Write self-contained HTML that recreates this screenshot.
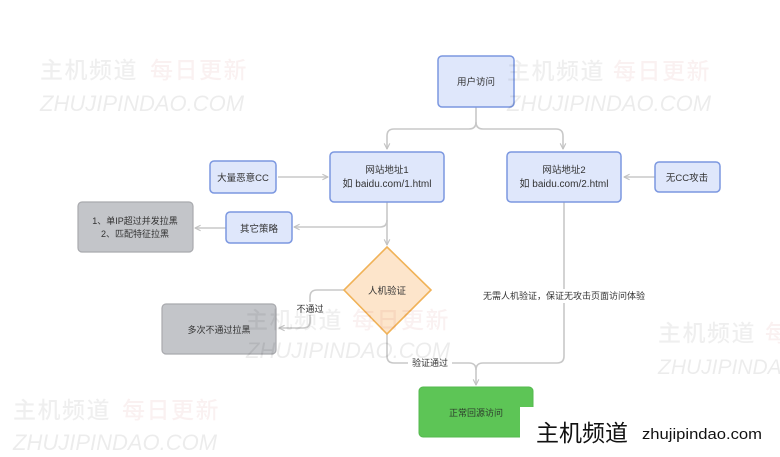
<!DOCTYPE html>
<html>
<head>
<meta charset="utf-8">
<style>
html,body{margin:0;padding:0;background:#fff;}
svg{display:block;}
text{font-family:"Liberation Sans","Noto Sans CJK SC",sans-serif;}
</style>
</head>
<body>
<svg width="780" height="457" viewBox="0 0 780 457" xmlns="http://www.w3.org/2000/svg">
<rect width="780" height="457" fill="#fff"/>
<defs>
<marker id="ar" viewBox="0 0 10 10" refX="9" refY="5" markerWidth="7" markerHeight="7" orient="auto" markerUnits="userSpaceOnUse">
<path d="M1,1 L9,5 L1,9" fill="none" stroke="#c2c2c2" stroke-width="1.6"/>
</marker>
</defs>

<!-- connectors -->
<g fill="none" stroke="#c8c8c8" stroke-width="1.6">
<path d="M476,107 V122 Q476,129 469,129 H394 Q387,129 387,136 V149" marker-end="url(#ar)"/>
<path d="M476,122 Q476,129 483,129 H556 Q563,129 563,136 V149" marker-end="url(#ar)"/>
<path d="M278,177 H328" marker-end="url(#ar)"/>
<path d="M655,177 H624" marker-end="url(#ar)"/>
<path d="M387,202 V245" marker-end="url(#ar)"/>
<path d="M387,220 Q387,227 380,227 H294" marker-end="url(#ar)"/>
<path d="M226,228 H195" marker-end="url(#ar)"/>
<path d="M344,290 H317 Q310,290 310,297 V321 Q310,328 303,328 H279" marker-end="url(#ar)"/>
<path d="M387,334 V356 Q387,363 394,363 H469 Q476,363 476,370 V385" marker-end="url(#ar)"/>
<path d="M564,202 V356 Q564,363 557,363 H483 Q476,363 476,370"/>
</g>

<!-- boxes -->
<g stroke="#7b97e0" stroke-width="1.5" fill="#dfe7fb">
<rect x="438" y="56" width="76" height="51" rx="4"/>
<rect x="330" y="152" width="114" height="50" rx="4"/>
<rect x="507" y="152" width="114" height="50" rx="4"/>
<rect x="210" y="161" width="66" height="32" rx="4"/>
<rect x="655" y="162" width="65" height="30" rx="4"/>
<rect x="226" y="212" width="66" height="31" rx="4"/>
</g>
<g stroke="#a9aaae" stroke-width="1.2" fill="#c3c5c9">
<rect x="78" y="202" width="115" height="50" rx="4"/>
<rect x="162" y="304" width="114" height="50" rx="4"/>
</g>
<polygon points="387,247 431,290 387,334 344,290" fill="#fde5cb" stroke="#f0b257" stroke-width="1.6"/>
<rect x="419" y="387" width="114" height="50" rx="4" fill="#5dc556" stroke="#55b94f" stroke-width="1"/>

<!-- label backgrounds -->
<rect x="296" y="302" width="28" height="13" fill="#fff"/>
<rect x="408" y="356" width="44" height="14" fill="#fff"/>
<rect x="482" y="289" width="164" height="14" fill="#fff"/>

<!-- box text -->
<g font-size="9.5" fill="#333" text-anchor="middle">
<text x="476" y="85">用户访问</text>
<text x="387" y="173">网站地址1</text>
<text x="387" y="187" font-size="10">如 baidu.com/1.html</text>
<text x="564" y="173">网站地址2</text>
<text x="564" y="187" font-size="10">如 baidu.com/2.html</text>
<text x="243" y="181">大量恶意CC</text>
<text x="687" y="181">无CC攻击</text>
<text x="259" y="232">其它策略</text>
<text x="135" y="224" font-size="9">1、单IP超过并发拉黑</text>
<text x="135" y="237" font-size="9">2、匹配特征拉黑</text>
<text x="219" y="333" font-size="9">多次不通过拉黑</text>
<text x="387" y="294">人机验证</text>
<text x="476" y="416" font-size="9" fill="#2d3b2c">正常回源访问</text>
<text x="310" y="312" font-size="9">不通过</text>
<text x="430" y="366" font-size="9">验证通过</text>
<text x="564" y="299" font-size="9">无需人机验证，保证无攻击页面访问体验</text>
</g>

<!-- watermarks -->
<g font-family="'Noto Sans CJK SC',sans-serif" font-weight="500" font-size="23" letter-spacing="1.5">
<g fill="#000" opacity="0.06">
<text x="40" y="78">主机频道</text>
<text x="507" y="79">主机频道</text>
<text x="245" y="328">主机频道</text>
<text x="658" y="341">主机频道</text>
<text x="13" y="418">主机频道</text>
</g>
<g fill="#b00000" opacity="0.05">
<text x="150" y="78">每日更新</text>
<text x="613" y="79">每日更新</text>
<text x="352" y="328">每日更新</text>
<text x="765" y="341">每日更新</text>
<text x="122" y="418">每日更新</text>
</g>
</g>
<g font-family="'Liberation Sans',sans-serif" font-style="italic" font-size="22" fill="#000" opacity="0.07">
<text x="40" y="111">ZHUJIPINDAO.COM</text>
<text x="507" y="111">ZHUJIPINDAO.COM</text>
<text x="246" y="358">ZHUJIPINDAO.COM</text>
<text x="658" y="374" font-size="21">ZHUJIPINDAO.COM</text>
<text x="13" y="450">ZHUJIPINDAO.COM</text>
</g>

<!-- bottom-right logo -->
<rect x="520" y="407" width="260" height="50" fill="#fff"/>
<text x="536" y="441" font-family="'Noto Sans CJK SC',sans-serif" font-size="23" fill="#111">主机频道</text>
<text x="642" y="439" font-family="'Liberation Sans',sans-serif" font-size="15" fill="#111" textLength="120" lengthAdjust="spacingAndGlyphs">zhujipindao.com</text>
</svg>
</body>
</html>
